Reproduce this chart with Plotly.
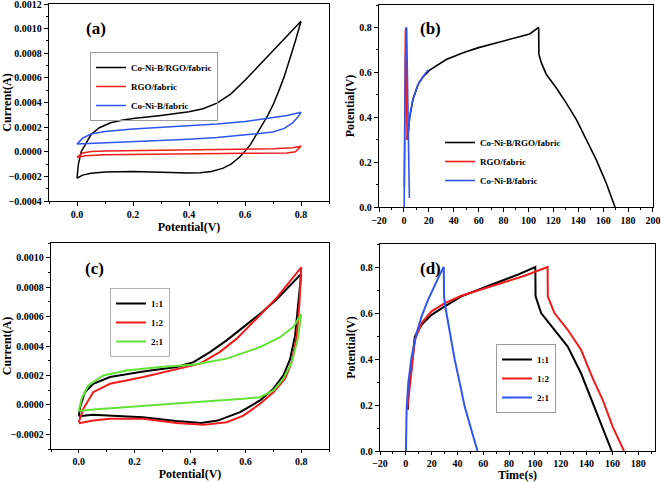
import plotly.graph_objects as go

W, H = 661, 482
SERIF = "Liberation Serif"
BLACK = "#000000"
RED = "#f01c1c"
BLUE = "#2f55f2"
GREEN = "#62e236"

# ---------------- Panel (a): CV, current in units of 1e-4 A ----------------
a_black_up_v = [0, 0.005, 0.015, 0.03, 0.05, 0.08, 0.12, 0.16, 0.2, 0.3, 0.4, 0.45, 0.5, 0.55, 0.6, 0.65, 0.7, 0.75, 0.8]
a_black_up_i = [-2.15, -1.0, 0.0, 0.65, 1.4, 1.95, 2.35, 2.55, 2.7, 2.95, 3.25, 3.5, 3.95, 4.7, 5.8, 7.0, 8.2, 9.4, 10.6]
a_black_dn_v = [0.8, 0.78, 0.76, 0.74, 0.72, 0.70, 0.68, 0.66, 0.64, 0.62, 0.60, 0.58, 0.55, 0.52, 0.48, 0.44, 0.4, 0.3, 0.2, 0.1, 0.05, 0.02, 0]
a_black_dn_i = [10.6, 9.0, 7.5, 6.1, 4.9, 3.8, 2.9, 2.1, 1.3, 0.6, 0.05, -0.45, -1.0, -1.35, -1.6, -1.7, -1.72, -1.65, -1.6, -1.65, -1.75, -1.9, -2.15]

a_red_up_v = [0, 0.02, 0.05, 0.1, 0.3, 0.5, 0.7, 0.77, 0.8]
a_red_up_i = [-0.46, -0.1, 0.02, 0.07, 0.13, 0.18, 0.25, 0.32, 0.45]
a_red_dn_v = [0.8, 0.78, 0.75, 0.6, 0.4, 0.2, 0.1, 0.03, 0]
a_red_dn_i = [0.45, 0.0, -0.1, -0.12, -0.15, -0.2, -0.25, -0.33, -0.46]

a_blue_up_v = [0, 0.02, 0.05, 0.1, 0.2, 0.3, 0.4, 0.5, 0.6, 0.7, 0.75, 0.8]
a_blue_up_i = [0.62, 1.1, 1.45, 1.65, 1.85, 1.98, 2.1, 2.25, 2.45, 2.75, 2.95, 3.2]
a_blue_dn_v = [0.8, 0.79, 0.77, 0.74, 0.7, 0.6, 0.5, 0.4, 0.3, 0.2, 0.1, 0.03, 0]
a_blue_dn_i = [3.2, 2.85, 2.35, 1.9, 1.6, 1.35, 1.15, 1.02, 0.92, 0.85, 0.78, 0.7, 0.62]

a_names = ["Co-Ni-B/RGO/fabric", "RGO/fabric", "Co-Ni-B/fabric"]

# ---------------- Panel (b): GCD ----------------
b_black_t = [2.5, 3.5, 4.6, 7.3, 11.3, 15.3, 20.7, 34, 47.5, 60, 74, 90, 101, 108.2, 108.4, 110.4, 114.4, 122.4, 130.4, 138.5, 146.5, 154.5, 162.5, 168.4, 169.5]
b_black_v = [0.30, 0.33, 0.40, 0.48, 0.545, 0.58, 0.61, 0.657, 0.687, 0.71, 0.731, 0.753, 0.771, 0.8, 0.68, 0.642, 0.59, 0.53, 0.463, 0.389, 0.30, 0.21, 0.106, 0.016, 0.0]
b_red_t = [0.3, 0.5, 0.8, 1.2, 1.5, 2.0, 2.6]
b_red_v = [0.09, 0.38, 0.58, 0.78, 0.8, 0.55, 0.3]
b_blue_t = [0.2, 0.4, 1.2, 2.2, 3.3, 4.4, None, 3.5, 4.6, 7.3, 11.3, 15.3, 19.6]
b_blue_v = [0.0, 0.3, 0.65, 0.8, 0.4, 0.04, None, 0.33, 0.40, 0.48, 0.545, 0.58, 0.612]

# ---------------- Panel (c): CV, current in units of 1e-4 A ----------------
c_black_up_v = [0, 0.006, 0.022, 0.052, 0.112, 0.232, 0.352, 0.413, 0.473, 0.533, 0.593, 0.653, 0.713, 0.8]
c_black_up_i = [-0.73, -0.05, 0.86, 1.43, 1.89, 2.27, 2.57, 2.9, 3.6, 4.4, 5.3, 6.2, 7.2, 8.9]
c_black_dn_v = [0.8, 0.79, 0.778, 0.76, 0.736, 0.7, 0.652, 0.58, 0.5, 0.44, 0.35, 0.23, 0.11, 0.05, 0]
c_black_dn_i = [8.9, 7.0, 4.7, 3.1, 2.0, 1.1, 0.3, -0.5, -1.07, -1.23, -1.1, -0.84, -0.73, -0.68, -0.77]

c_red_up_v = [0, 0.016, 0.052, 0.112, 0.232, 0.352, 0.436, 0.508, 0.568, 0.652, 0.713, 0.8]
c_red_up_i = [-1.18, -0.27, 0.86, 1.43, 1.89, 2.45, 2.8, 3.6, 4.5, 6.1, 7.3, 9.35]
c_red_dn_v = [0.8, 0.794, 0.784, 0.766, 0.742, 0.7, 0.652, 0.592, 0.532, 0.448, 0.352, 0.232, 0.112, 0.052, 0]
c_red_dn_i = [9.35, 7.0, 4.7, 2.9, 1.77, 0.86, 0.07, -0.73, -1.18, -1.36, -1.23, -0.95, -0.95, -1.07, -1.25]

c_green_up_v = [0, 0.01, 0.034, 0.088, 0.172, 0.292, 0.412, 0.532, 0.652, 0.724, 0.772, 0.8]
c_green_up_i = [-0.42, 0.41, 1.32, 2.0, 2.34, 2.57, 2.73, 3.14, 3.93, 4.6, 5.3, 6.15]
c_green_dn_v = [0.8, 0.788, 0.766, 0.736, 0.7, 0.652, 0.592, 0.412, 0.232, 0.052, 0]
c_green_dn_i = [6.15, 4.5, 2.9, 1.77, 0.98, 0.52, 0.41, 0.18, -0.05, -0.32, -0.42]

ratio_names = ["1:1", "1:2", "2:1"]

# ---------------- Panel (d): GCD ----------------
d_black_t = [1.5, 2.0, 4.5, 7.0, 12.2, 19.9, 30.2, 43, 66.2, 86.8, 100.3, 100.5, 104.8, 115.1, 125.4, 135.7, 146, 152.5, 159.5]
d_black_v = [0.18, 0.25, 0.367, 0.498, 0.549, 0.592, 0.629, 0.672, 0.723, 0.767, 0.8, 0.672, 0.6, 0.527, 0.454, 0.338, 0.193, 0.106, 0.0]
d_red_t = [1.1, 3.2, 7.0, 12.2, 19.9, 30.2, 43, 66.2, 92, 109.8, 110, 115.1, 125.4, 135.7, 144.7, 152.5, 160.2, 169]
d_red_v = [0.18, 0.295, 0.483, 0.556, 0.607, 0.643, 0.675, 0.716, 0.762, 0.8, 0.672, 0.6, 0.527, 0.44, 0.317, 0.222, 0.106, 0.0]
d_blue_t = [0.1, 0.3, 0.6, 1.9, 4.5, 8.3, 12.2, 17.3, 22.5, 26.3, 29.4, 29.6, 31, 34, 37.9, 41.8, 45.6, 50.8, 55.5]
d_blue_v = [0.0, 0.1, 0.18, 0.295, 0.41, 0.512, 0.585, 0.658, 0.723, 0.767, 0.8, 0.672, 0.614, 0.512, 0.396, 0.295, 0.193, 0.091, 0.0]


def loop(up_v, up_i, dn_v, dn_i):
    return up_v + dn_v, [v * 1e-4 for v in up_i + dn_i]


fig = go.Figure()

# (a)
for (uv, ui, dv, di), col, nm in zip(
        [(a_black_up_v, a_black_up_i, a_black_dn_v, a_black_dn_i),
         (a_red_up_v, a_red_up_i, a_red_dn_v, a_red_dn_i),
         (a_blue_up_v, a_blue_up_i, a_blue_dn_v, a_blue_dn_i)],
        [BLACK, RED, BLUE], a_names):
    x, y = loop(uv, ui, dv, di)
    fig.add_trace(go.Scatter(x=x, y=y, mode="lines", name=nm, line=dict(color=col, width=1.5),
                             xaxis="x", yaxis="y", legend="legend"))

# (b)
for t, v, col, nm in zip([b_black_t, b_red_t, b_blue_t], [b_black_v, b_red_v, b_blue_v],
                         [BLACK, RED, BLUE], a_names):
    fig.add_trace(go.Scatter(x=t, y=v, mode="lines", name=nm, line=dict(color=col, width=1.6),
                             xaxis="x2", yaxis="y2", legend="legend2", connectgaps=False))

# (c)
for (uv, ui, dv, di), col, nm in zip(
        [(c_black_up_v, c_black_up_i, c_black_dn_v, c_black_dn_i),
         (c_red_up_v, c_red_up_i, c_red_dn_v, c_red_dn_i),
         (c_green_up_v, c_green_up_i, c_green_dn_v, c_green_dn_i)],
        [BLACK, RED, GREEN], ratio_names):
    x, y = loop(uv, ui, dv, di)
    fig.add_trace(go.Scatter(x=x, y=y, mode="lines", name=nm, line=dict(color=col, width=2),
                             xaxis="x3", yaxis="y3", legend="legend3"))

# (d)
for t, v, col, nm in zip([d_black_t, d_red_t, d_blue_t], [d_black_v, d_red_v, d_blue_v],
                         [BLACK, RED, BLUE], ratio_names):
    fig.add_trace(go.Scatter(x=t, y=v, mode="lines", name=nm, line=dict(color=col, width=2),
                             xaxis="x4", yaxis="y4", legend="legend4"))

tickfont = dict(family=SERIF, size=10, color="black", weight="bold")
titlefont = dict(family=SERIF, size=12, color="black", weight="bold")


def axis(domain, rng, dtick, minor_dtick, fmt, anchor, title=None, standoff=None, tick0=0, ticklen=4):
    d = dict(domain=domain, range=rng, dtick=dtick, tick0=tick0, tickformat=fmt, anchor=anchor,
             showline=True, linecolor="black", linewidth=1.3, mirror=True,
             ticks="outside", ticklen=ticklen, tickwidth=1.2, tickcolor="black",
             showgrid=False, zeroline=False, tickfont=tickfont, automargin=False,
             ticklabeloverflow="allow",
             minor=dict(ticks="outside", ticklen=2, tickwidth=1, tickcolor="black",
                        dtick=minor_dtick, tick0=tick0, showgrid=False))
    if title:
        d["title"] = dict(text=title, font=titlefont, standoff=standoff)
    return d


def px_x(a, b):
    return [a / W, b / W]


def px_y(top, bottom):
    return [1 - bottom / H, 1 - top / H]


legend_common = dict(font=dict(family=SERIF, size=9, color="black", weight="bold"),
                     bgcolor="rgba(0,0,0,0)", xanchor="left", yanchor="top",
                     tracegroupgap=0, itemwidth=30)

fig.update_layout(
    width=W, height=H, template="none",
    margin=dict(l=0, r=0, t=0, b=0),
    paper_bgcolor="white", plot_bgcolor="white",
    font=dict(family=SERIF, color="black"),
    xaxis=axis(px_x(49, 329), [-0.1, 0.9], 0.2, 0.1, ".1f", "y", "Potential(V)", 3),
    yaxis=axis(px_y(4, 201), [-0.00040001, 0.00120001], 0.0002, 0.0001, ".4f", "x", "Current(A)", 5),
    xaxis2=axis(px_x(379, 653), [-20, 200.01], 20, 10, "d", "y2"),
    yaxis2=axis(px_y(5, 207), [0, 0.9], 0.2, 0.1, ".1f", "x2", "Potential(V)", 2),
    xaxis3=axis(px_x(51, 329), [-0.1, 0.9], 0.2, 0.1, ".1f", "y3", "Potential(V)", 1, ticklen=3),
    yaxis3=axis(px_y(243, 449), [-0.0003, 0.0011], 0.0002, 0.0001, ".4f", "x3", "Current(A)", 5),
    xaxis4=axis(px_x(380, 655), [-20, 193], 20, 10, "d", "y4", "Time(s)", 1, ticklen=3),
    yaxis4=axis(px_y(244, 451), [0, 0.9], 0.2, 0.1, ".1f", "x4", "Potential(V)", 2),
    legend=dict(x=90 / W, y=1 - 52 / H, bordercolor="#9a9a9a", borderwidth=1, **legend_common),
    legend2=dict(x=440 / W, y=1 - 128 / H, borderwidth=0, **legend_common),
    legend3=dict(x=110 / W, y=1 - 288 / H, bordercolor="#b0b0b0", borderwidth=1, **legend_common),
    legend4=dict(x=496 / W, y=1 - 344 / H, bordercolor="#9a9a9a", borderwidth=1, **legend_common),
    showlegend=True,
)

for txt, cx, cy in [("(a)", 96, 28), ("(b)", 430, 28), ("(c)", 95, 268), ("(d)", 430, 268)]:
    fig.add_annotation(text=txt, x=cx / W, y=1 - cy / H, xref="paper", yref="paper",
                       xanchor="center", yanchor="middle", showarrow=False,
                       font=dict(family=SERIF, size=17, color="black", weight="bold"))

fig.write_html("out.html")
